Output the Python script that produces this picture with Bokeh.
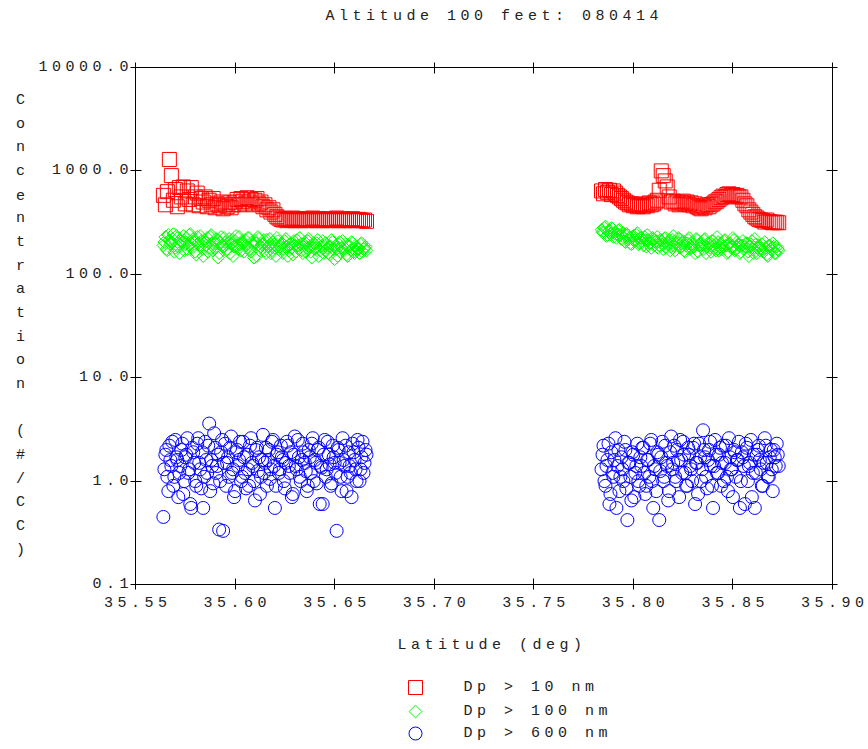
import math
from bokeh.plotting import figure
from bokeh.models import (Range1d, LinearAxis, LogAxis, FixedTicker, Label,
                          CustomJSTickFormatter, InlineStyleSheet)
from bokeh.embed import file_html
from bokeh.resources import INLINE
from bokeh.core.properties import value

# ---------------- data ----------------
title_text = "Altitude 100 feet: 080414"
x_label = "Latitude (deg)"
y_label = "Concentration (#/CC)"
x_ticks = [35.55, 35.60, 35.65, 35.70, 35.75, 35.80, 35.85, 35.90]
x_tick_labels = ["35.55", "35.60", "35.65", "35.70", "35.75", "35.80", "35.85", "35.90"]
y_ticks = [0.1, 1.0, 10.0, 100.0, 1000.0, 10000.0]
y_tick_labels = ["0.1", "1.0", "10.0", "100.0", "1000.0", "10000.0"]
series_names = ["Dp > 10 nm", "Dp > 100 nm", "Dp > 600 nm"]

# first flight leg
lat_a = [
    35.564, 35.565, 35.566, 35.567, 35.568, 35.569, 35.570, 35.571, 35.572, 35.573,
    35.574, 35.575, 35.576, 35.577, 35.578, 35.579, 35.580, 35.581, 35.582, 35.583,
    35.584, 35.585, 35.586, 35.587, 35.588, 35.589, 35.590, 35.591, 35.592, 35.593,
    35.594, 35.595, 35.596, 35.597, 35.598, 35.599, 35.600, 35.601, 35.602, 35.603,
    35.604, 35.605, 35.606, 35.607, 35.608, 35.609, 35.610, 35.611, 35.612, 35.613,
    35.614, 35.615, 35.616, 35.617, 35.618, 35.619, 35.620, 35.621, 35.622, 35.623,
    35.624, 35.625, 35.626, 35.627, 35.628, 35.629, 35.630, 35.631, 35.632, 35.633,
    35.634, 35.635, 35.636, 35.637, 35.638, 35.639, 35.640, 35.641, 35.642, 35.643,
    35.644, 35.645, 35.646, 35.647, 35.648, 35.649, 35.650, 35.651, 35.652, 35.653,
    35.654, 35.655, 35.656, 35.657, 35.658, 35.659, 35.660, 35.661, 35.662, 35.663,
    35.664, 35.665, 35.666,
]
dp10_a = [
    580, 470, 630, 1290, 900, 520, 660, 450, 690, 560,
    700, 480, 640, 530, 690, 470, 560, 610, 460, 540,
    500, 560, 450, 520, 470, 540, 440, 480, 460, 500,
    430, 470, 450, 490, 440, 470, 500, 530, 470, 540,
    510, 480, 550, 500, 530, 470, 520, 540, 480, 500,
    450, 470, 420, 440, 400, 420, 380, 360, 350, 340,
    335, 345, 330, 340, 335, 350, 330, 345, 340, 330,
    340, 335, 345, 330, 340, 350, 335, 330, 345, 340,
    330, 340, 335, 345, 330, 340, 335, 350, 330, 340,
    345, 330, 335, 340, 330, 345, 335, 330, 340, 335,
    330, 335, 325,
]
dp100_a = [
    190, 230, 170, 215, 205, 245, 180, 225, 160, 210,
    235, 195, 175, 240, 200, 220, 165, 230, 190, 210,
    150, 205, 225, 180, 240, 170, 200, 215, 160, 230,
    185, 205, 175, 220, 195, 150, 210, 190, 230, 170,
    200, 215, 180, 225, 165, 195, 210, 150, 220, 185,
    200, 170, 215, 190, 160, 205, 180, 225, 175, 195,
    160, 210, 185, 170, 200, 155, 190, 215, 175, 195,
    160, 205, 180, 220, 165, 190, 175, 200, 150, 185,
    210, 170, 195, 160, 185, 205, 140, 175, 195, 165,
    210, 180, 155, 190, 170, 200, 160, 185, 175, 195,
    165, 180, 170,
]
dp600_a = [
    0.45, 1.8, 1.1, 2.2, 1.4, 0.9, 2.5, 1.6, 1.2, 2.0,
    0.75, 1.7, 2.6, 1.3, 0.55, 1.9, 1.0, 2.3, 1.5, 0.85,
    0.55, 2.4, 1.2, 3.6, 1.6, 0.95, 2.1, 1.4, 0.34, 1.9,
    0.33, 2.3, 1.5, 1.1, 2.7, 1.3, 0.8, 2.0, 1.6, 1.0,
    2.4, 1.2, 1.8, 0.9, 2.6, 1.4, 0.65, 2.1, 1.7, 1.1,
    2.8, 1.5, 0.9, 2.0, 1.3, 2.5, 0.55, 1.8, 1.2, 2.2,
    1.6, 0.85, 2.4, 1.4, 1.9, 0.75, 2.7, 1.3, 1.7, 1.0,
    2.3, 1.5, 0.8, 2.0, 1.2, 2.6, 1.6, 0.95, 2.1, 1.4,
    0.6, 2.5, 1.3, 1.8, 0.9, 2.2, 1.5, 0.33, 2.0, 1.1,
    2.6, 1.4, 0.8, 1.9, 1.2, 2.3, 1.6, 1.0, 2.1, 1.3,
    2.4, 1.5, 1.8,
]
# first leg, intermediate samples
lat_a2 = [
    35.5645, 35.5655, 35.5665, 35.5675, 35.5685, 35.5695, 35.5705, 35.5715, 35.5725, 35.5735,
    35.5745, 35.5755, 35.5765, 35.5775, 35.5785, 35.5795, 35.5805, 35.5815, 35.5825, 35.5835,
    35.5845, 35.5855, 35.5865, 35.5875, 35.5885, 35.5895, 35.5905, 35.5915, 35.5925, 35.5935,
    35.5945, 35.5955, 35.5965, 35.5975, 35.5985, 35.5995, 35.6005, 35.6015, 35.6025, 35.6035,
    35.6045, 35.6055, 35.6065, 35.6075, 35.6085, 35.6095, 35.6105, 35.6115, 35.6125, 35.6135,
    35.6145, 35.6155, 35.6165, 35.6175, 35.6185, 35.6195, 35.6205, 35.6215, 35.6225, 35.6235,
    35.6245, 35.6255, 35.6265, 35.6275, 35.6285, 35.6295, 35.6305, 35.6315, 35.6325, 35.6335,
    35.6345, 35.6355, 35.6365, 35.6375, 35.6385, 35.6395, 35.6405, 35.6415, 35.6425, 35.6435,
    35.6445, 35.6455, 35.6465, 35.6475, 35.6485, 35.6495, 35.6505, 35.6515, 35.6525, 35.6535,
    35.6545, 35.6555, 35.6565, 35.6575, 35.6585, 35.6595, 35.6605, 35.6615, 35.6625, 35.6635,
    35.6645, 35.6655,
]
dp100_a2 = [
    205, 175, 240, 195, 220, 165, 235, 185, 215, 200,
    170, 225, 190, 245, 180, 210, 155, 200, 235, 175,
    215, 190, 165, 230, 200, 180, 220, 145, 205, 190,
    225, 170, 200, 160, 215, 185, 235, 175, 195, 210,
    165, 190, 225, 175, 205, 145, 200, 230, 170, 195,
    215, 160, 185, 220, 170, 195, 150, 210, 185, 200,
    175, 220, 150, 195, 180, 210, 165, 190, 225, 170,
    195, 165, 210, 185, 145, 200, 180, 215, 170, 190,
    160, 200, 180, 155, 215, 175, 190, 150, 205, 180,
    170, 195, 150, 185, 205, 165, 190, 175, 160, 200,
    175, 185,
]
dp600_a2 = [
    1.3, 2.0, 0.8, 1.6, 2.4, 1.1, 1.7, 0.7, 1.4, 2.3,
    1.0, 1.8, 1.2, 0.6, 2.1, 1.5, 0.9, 2.6, 1.3, 1.9,
    1.1, 1.6, 2.2, 0.8, 1.4, 2.9, 1.2, 1.8, 1.0, 2.5,
    1.5, 0.9, 1.7, 2.1, 1.2, 0.7, 1.9, 1.4, 2.4, 1.1,
    1.7, 0.85, 1.3, 2.2, 1.5, 1.0, 2.0, 1.25, 0.75, 1.6,
    1.2, 2.1, 1.6, 1.05, 2.4, 1.4, 0.9, 1.9, 1.3, 1.7,
    1.0, 1.5, 2.2, 1.2, 0.7, 1.8, 1.4, 2.5, 1.1, 1.6,
    1.9, 1.25, 0.9, 1.7, 2.3, 1.0, 1.5, 2.0, 0.6, 1.35,
    1.8, 1.1, 2.4, 1.45, 0.95, 1.7, 1.2, 2.1, 1.5, 0.8,
    1.6, 2.2, 1.1, 1.4, 0.7, 1.9, 1.3, 2.5, 1.0, 1.7,
    1.2, 2.0,
]

# second flight leg
lat_b = [
    35.784, 35.785, 35.786, 35.787, 35.788, 35.789, 35.790, 35.791, 35.792, 35.793,
    35.794, 35.795, 35.796, 35.797, 35.798, 35.799, 35.800, 35.801, 35.802, 35.803,
    35.804, 35.805, 35.806, 35.807, 35.808, 35.809, 35.810, 35.811, 35.812, 35.813,
    35.814, 35.815, 35.816, 35.817, 35.818, 35.819, 35.820, 35.821, 35.822, 35.823,
    35.824, 35.825, 35.826, 35.827, 35.828, 35.829, 35.830, 35.831, 35.832, 35.833,
    35.834, 35.835, 35.836, 35.837, 35.838, 35.839, 35.840, 35.841, 35.842, 35.843,
    35.844, 35.845, 35.846, 35.847, 35.848, 35.849, 35.850, 35.851, 35.852, 35.853,
    35.854, 35.855, 35.856, 35.857, 35.858, 35.859, 35.860, 35.861, 35.862, 35.863,
    35.864, 35.865, 35.866, 35.867, 35.868, 35.869, 35.870, 35.871, 35.872, 35.873,
]
dp10_b = [
    640, 600, 660, 620, 650, 590, 640, 610, 580, 560,
    540, 520, 500, 490, 470, 480, 460, 470, 450, 460,
    480, 450, 470, 460, 490, 470, 480, 500, 520, 650,
    1000, 900, 800, 700, 560, 500, 510, 480, 500, 470,
    490, 510, 480, 500, 470, 490, 460, 480, 450, 440,
    430, 460, 440, 470, 450, 470, 480, 500, 510, 530,
    550, 570, 560, 590, 600, 580, 590, 570, 580, 560,
    560, 520, 480, 460, 420, 400, 380, 360, 350, 340,
    335, 330, 320, 335, 325, 320, 315, 320, 318, 315,
]
dp100_b = [
    270, 250, 290, 240, 265, 280, 230, 255, 245, 270,
    220, 250, 205, 240, 225, 195, 235, 215, 250, 200,
    225, 190, 215, 240, 200, 180, 220, 205, 230, 190,
    210, 175, 225, 195, 215, 185, 235, 170, 205, 220,
    185, 210, 165, 200, 225, 180, 195, 160, 215, 190,
    205, 175, 220, 185, 195, 165, 210, 180, 230, 170,
    200, 185, 215, 160, 195, 180, 225, 170, 205, 190,
    165, 210, 185, 200, 150, 195, 175, 220, 160, 190,
    180, 170, 205, 155, 190, 175, 200, 160, 185, 170,
]
dp600_b = [
    1.3, 2.2, 0.9, 1.6, 0.6, 1.9, 1.1, 2.6, 1.4, 0.8,
    1.7, 1.0, 2.0, 0.42, 1.5, 0.65, 1.8, 1.2, 2.3, 0.9,
    1.4, 2.1, 0.75, 1.6, 1.1, 2.5, 0.55, 1.3, 1.9, 0.42,
    1.7, 1.0, 2.2, 1.4, 0.8, 2.7, 1.5, 1.1, 2.0, 0.7,
    1.6, 2.4, 1.2, 0.9, 1.8, 1.3, 2.1, 0.6, 1.5, 2.3,
    1.0, 3.1, 1.7, 0.85, 2.0, 1.4, 0.55, 2.5, 1.2, 1.8,
    0.9, 2.2, 1.5, 1.1, 2.6, 1.3, 0.7, 1.9, 1.6, 2.4,
    1.0, 1.7, 0.6, 2.1, 1.4, 2.5, 1.2, 0.55, 1.8, 2.2,
    1.3, 0.9, 2.6, 1.5, 1.1, 2.0, 0.8, 1.7, 2.3, 1.4,
]
# second leg, intermediate samples
lat_b2 = [
    35.7845, 35.7855, 35.7865, 35.7875, 35.7885, 35.7895, 35.7905, 35.7915, 35.7925, 35.7935,
    35.7945, 35.7955, 35.7965, 35.7975, 35.7985, 35.7995, 35.8005, 35.8015, 35.8025, 35.8035,
    35.8045, 35.8055, 35.8065, 35.8075, 35.8085, 35.8095, 35.8105, 35.8115, 35.8125, 35.8135,
    35.8145, 35.8155, 35.8165, 35.8175, 35.8185, 35.8195, 35.8205, 35.8215, 35.8225, 35.8235,
    35.8245, 35.8255, 35.8265, 35.8275, 35.8285, 35.8295, 35.8305, 35.8315, 35.8325, 35.8335,
    35.8345, 35.8355, 35.8365, 35.8375, 35.8385, 35.8395, 35.8405, 35.8415, 35.8425, 35.8435,
    35.8445, 35.8455, 35.8465, 35.8475, 35.8485, 35.8495, 35.8505, 35.8515, 35.8525, 35.8535,
    35.8545, 35.8555, 35.8565, 35.8575, 35.8585, 35.8595, 35.8605, 35.8615, 35.8625, 35.8635,
    35.8645, 35.8655, 35.8665, 35.8675, 35.8685, 35.8695, 35.8705, 35.8715, 35.8725,
]
dp100_b2 = [
    255, 280, 235, 260, 245, 275, 250, 225, 265, 240,
    235, 210, 245, 220, 200, 230, 210, 240, 195, 225,
    205, 230, 185, 215, 200, 225, 190, 210, 180, 215,
    195, 220, 180, 205, 170, 215, 190, 200, 225, 180,
    200, 170, 190, 215, 175, 205, 185, 220, 165, 195,
    190, 215, 160, 200, 180, 210, 190, 170, 205, 185,
    175, 210, 190, 165, 200, 185, 215, 175, 195, 160,
    190, 175, 200, 165, 185, 210, 160, 195, 180, 170,
    195, 165, 180, 150, 190, 170, 185, 160, 175,
]
dp600_b2 = [
    1.8, 1.0, 1.4, 2.3, 0.75, 1.2, 1.6, 0.55, 2.0, 1.1,
    1.3, 2.4, 0.85, 1.5, 1.1, 1.9, 0.7, 1.4, 1.0, 1.7,
    2.1, 1.2, 0.9, 1.6, 2.3, 1.0, 1.4, 0.8, 1.8, 1.25,
    2.4, 1.1, 1.5, 0.65, 1.9, 1.3, 2.2, 1.0, 1.6, 2.5,
    1.2, 1.8, 0.9, 2.1, 1.4, 1.0, 2.3, 1.5, 0.75, 1.7,
    1.3, 2.0, 1.1, 1.6, 2.4, 0.9, 1.4, 1.8, 1.2, 2.1,
    1.5, 1.0, 2.2, 0.8, 1.7, 1.3, 2.0, 1.1, 1.6, 0.55,
    1.9, 1.4, 2.3, 1.0, 1.5, 0.7, 1.8, 1.2, 2.0, 1.6,
    0.9, 1.5, 2.2, 1.1, 1.7, 1.3, 2.0, 1.4, 1.8,
]

colors = ["#FF0000", "#00FF00", "#0000FF"]

# ---------------- layout constants (pixels) ----------------
FONT = "Liberation Mono"
FS = "15px"
TXT = "#222222"
W, H = 868, 749
FL, FR, FT, FB = 135, 832, 67, 584      # plot box edges
X0, X1, Y0, Y1 = 35.55, 35.90, 0.1, 10000.0
NBSP = "\u00a0"


def px2x(px):
    return X0 + (px - FL) * (X1 - X0) / (FR - FL)


def py2y(py):
    lo, hi = math.log10(Y0), math.log10(Y1)
    return 10 ** (lo + (FB - py) * (hi - lo) / (FB - FT))


css = InlineStyleSheet(css=":host { letter-spacing: 4.5px; }")

p = figure(width=W, height=H,
           x_range=Range1d(px2x(0), px2x(W)), y_range=Range1d(py2y(H), py2y(0)),
           y_axis_type="log", x_axis_location=None, y_axis_location=None,
           output_backend="svg", toolbar_location=None, min_border=0,
           stylesheets=[css])
p.grid.visible = False
p.outline_line_color = None
p.background_fill_color = "white"
p.border_fill_color = "white"

# axes forming the plot box
bottom_axis = LinearAxis(fixed_location=Y0, bounds=(X0, X1), ticker=FixedTicker(ticks=x_ticks),
                         major_label_overrides={t: l + NBSP * 2 for t, l in zip(x_ticks, x_tick_labels)})
left_axis = LogAxis(fixed_location=X0, bounds=(Y0, Y1), ticker=FixedTicker(ticks=y_ticks),
                    major_label_overrides={t: NBSP * (7 - len(l)) + l for t, l in zip(y_ticks, y_tick_labels)})
top_axis = LinearAxis(fixed_location=Y1, bounds=(X0, X1), ticker=FixedTicker(ticks=x_ticks),
                      formatter=CustomJSTickFormatter(code="return ''"))
right_axis = LogAxis(fixed_location=X1, bounds=(Y0, Y1), ticker=FixedTicker(ticks=y_ticks),
                     formatter=CustomJSTickFormatter(code="return ''"))
p.add_layout(bottom_axis, "below")
p.add_layout(left_axis, "left")
p.add_layout(top_axis, "above")
p.add_layout(right_axis, "right")

for ax in [bottom_axis, left_axis, top_axis, right_axis]:
    ax.axis_line_color = "black"
    ax.major_tick_line_color = "black"
    ax.major_tick_in = 6
    ax.major_tick_out = 5
    ax.minor_tick_line_color = None
    ax.major_label_text_font = FONT
    ax.major_label_text_font_size = FS
    ax.major_label_text_color = TXT
left_axis.major_label_standoff = 29
bottom_axis.major_label_standoff = 5

# data
p.scatter(lat_a, dp10_a, marker="square", size=14, fill_color=None, line_color=colors[0])
p.scatter(lat_b, dp10_b, marker="square", size=14, fill_color=None, line_color=colors[0])
for lx, ly in [(lat_a, dp100_a), (lat_a2, dp100_a2), (lat_b, dp100_b), (lat_b2, dp100_b2)]:
    p.scatter(lx, ly, marker="square", angle=math.pi / 4, size=9, fill_color=None, line_color=colors[1])
for lx, ly in [(lat_a, dp600_a), (lat_a2, dp600_a2), (lat_b, dp600_b), (lat_b2, dp600_b2)]:
    p.scatter(lx, ly, marker="circle", size=13, fill_color=None, line_color=colors[2])

text_kw = dict(text_baseline="middle", text_font=FONT, text_font_size=FS, text_color=TXT)
# title
p.add_layout(Label(x=px2x(325), y=py2y(16), text=title_text, text_align="left", **text_kw))
# x-axis title
p.add_layout(Label(x=px2x(397), y=py2y(645), text=x_label, text_align="left", **text_kw))
# stacked y-axis title
for k, ch in enumerate(y_label):
    if ch == " ":
        continue
    p.add_layout(Label(x=px2x(20), y=py2y(100 + 23.67 * k), text=ch, text_align="center", **text_kw))

# legend
leg_y = [py2y(687), py2y(711), py2y(733)]
leg_x = px2x(415)
p.scatter([leg_x], [leg_y[0]], marker="square", size=14, fill_color=None, line_color=colors[0])
p.scatter([leg_x], [leg_y[1]], marker="square", angle=math.pi / 4, size=9, fill_color=None, line_color=colors[1])
p.scatter([leg_x], [leg_y[2]], marker="circle", size=13, fill_color=None, line_color=colors[2])
p.text(x=[px2x(463)] * 3, y=leg_y, text=series_names, text_align="left", text_baseline="middle",
       text_font=value(FONT), text_font_size=value(FS), text_color=TXT)

open("out.html", "w").write(file_html(p, INLINE))
